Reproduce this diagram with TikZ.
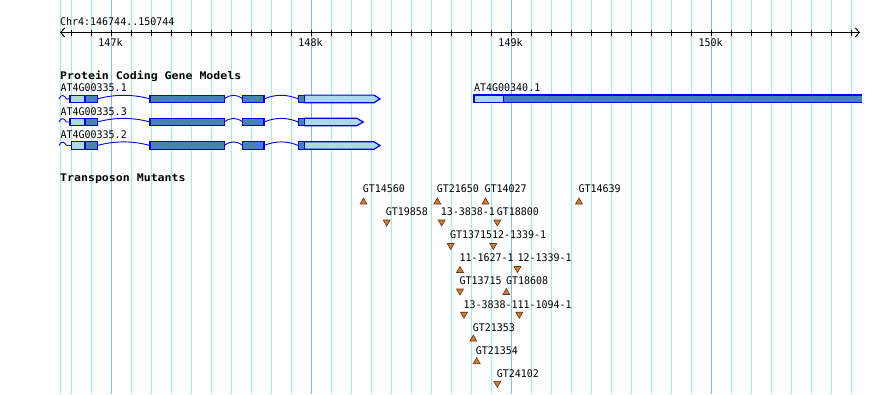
\documentclass[tikz,border=0pt]{standalone}
\usepackage{fontspec}
\usepackage{graphicx}
\setmonofont{DejaVu Sans Mono}[FakeStretch=0.95]
\usetikzlibrary{shapes.geometric,arrows.meta}
\definecolor{gridminor}{RGB}{160,236,238}
\definecolor{gridmajor}{RGB}{125,190,245}
\definecolor{exdark}{RGB}{70,130,180}
\definecolor{exlight}{RGB}{173,216,230}
\definecolor{exline}{RGB}{0,0,235}
\definecolor{mutfill}{RGB}{212,122,50}
\definecolor{mutline}{RGB}{100,55,20}
\newcommand\intronpath[3]{% x1 x2 y
  \draw[exline,line width=0.9pt] (#1,#3) .. controls ({#1+(#2-#1)/3},{#3-4.8}) and ({#2-(#2-#1)/3},{#3-4.8}) .. (#2,#3);}
\newcommand\generow[4]{% y, first exon start, light end, tip
  \draw[exline,line width=0.9pt] (59,#1) .. controls (61,{#1-4.5}) and (64,{#1-4.5}) .. (66.5,#1) -- (#2,#1);
  \intronpath{97.3}{150}{#1}
  \intronpath{224.3}{242.7}{#1}
  \intronpath{264}{298.3}{#1}
  \draw[exbox,fill=exlight] (#2,{#1-3.8}) rectangle (85,{#1+3.8});
  \draw[exbox,fill=exdark] (85,{#1-3.8}) rectangle (97.3,{#1+3.8});
  \draw[exbox,fill=exdark] (150,{#1-3.8}) rectangle (224.3,{#1+3.8});
  \draw[exbox,fill=exdark] (242.7,{#1-3.8}) rectangle (264,{#1+3.8});
  \draw[exbox,fill=exlight] (304.3,{#1-3.8}) -- (#3,{#1-3.8}) -- (#4,#1) -- (#3,{#1+3.8}) -- (304.3,{#1+3.8}) -- cycle;
  \draw[exbox,fill=exdark] (298.3,{#1-3.8}) rectangle (304.3,{#1+3.8});
}
\begin{document}
\begin{tikzpicture}[x=1pt,y=-1pt,
  font=\ttfamily\fontsize{10.5}{12}\selectfont,
  lab/.style={anchor=base west, inner sep=0pt},
  exbox/.style={draw=exline, line width=1.2pt},
  mutup/.style={regular polygon, regular polygon sides=3, fill=mutfill, draw=mutline,
     line width=0.6pt, inner sep=0pt, minimum size=8pt, yshift=-1pt},
  mutdn/.style={mutup, shape border rotate=180, yshift=1pt}]
\useasboundingbox (0,0) rectangle (890,394);
\fill[white] (0,0) rectangle (890,394);
% grid
\draw[gridminor,line width=1pt] (60.5,0) -- (60.5,394);
\foreach \i in {0,...,39} {
  \pgfmathsetmacro\xx{71.5+20*\i}
  \draw[gridminor,line width=1pt] (\xx,0) -- (\xx,394);
}
\foreach \xx in {111.5,311.5,511.5,711.5} {
  \draw[gridmajor,line width=1pt] (\xx,0) -- (\xx,394);
}
% axis
\node[lab] (chr) at (60,25) {Chr4:146744..150744};
\draw[line width=1pt,{Straight Barb[length=4pt,width=9pt]}-{Straight Barb[length=4pt,width=9pt]}] (60,32.5) -- (860,32.5);
\foreach \i in {0,...,39} {
  \pgfmathsetmacro\xx{71.5+20*\i}
  \draw[line width=1pt] (\xx,29.5) -- (\xx,35.5);
}
\node[anchor=base,inner sep=0pt] (k147) at (110.5,46.5) {147k};
\node[anchor=base,inner sep=0pt] (k148) at (310.5,46.5) {148k};
\node[anchor=base,inner sep=0pt] (k149) at (510.5,46.5) {149k};
\node[anchor=base,inner sep=0pt] (k150) at (710.5,46.5) {150k};
% gene models
\node[lab] (hgenes) at (60,79.5) {\bfseries\scalebox{1.16}[1]{Protein Coding Gene Models}};
\node[lab] (g1) at (60.5,91.7) {AT4G00335.1};
\node[lab] (g3) at (60.5,115) {AT4G00335.3};
\node[lab] (g2) at (60.5,138.3) {AT4G00335.2};
\node[lab] (g4) at (474,91.7) {AT4G00340.1};
\generow{98.9}{70}{374}{380}
\generow{122}{70}{356.7}{363.3}
\generow{145.5}{71.7}{374}{380}
\fill[exdark] (503.3,95) rectangle (862,102.5);
\fill[exlight] (474,95) rectangle (503.3,102.5);
\draw[exline,line width=1.2pt] (862,95) -- (474,95) -- (474,102.5) -- (862,102.5);
\draw[exline,line width=1.2pt] (503.3,95) -- (503.3,102.5);
% transposon mutants
\node[lab] (hmut) at (60,181) {\bfseries\scalebox{1.16}[1]{Transposon Mutants}};
% row 0
\node[lab] (l1) at (362.7,192.3) {GT14560};   \node[mutup] (t1) at (363.5,201) {};
\node[lab] (l2) at (436.7,192.3) {GT21650};   \node[mutup] (t2) at (437.3,201) {};
\node[lab] (l3) at (484.3,192.3) {GT14027};   \node[mutup] (t3) at (485.5,201) {};
\node[lab] (l4) at (578.3,192.3) {GT14639};   \node[mutup] (t4) at (579,201) {};
% row 1
\node[lab] (l5) at (385.7,215.6) {GT19858};   \node[mutdn] (t5) at (386.7,222) {};
\node[lab] (l6) at (440.7,215.6) {13-3838-1}; \node[mutdn] (t6) at (441.7,222) {};
\node[lab] (l7) at (496.7,215.6) {GT18800};   \node[mutdn] (t7) at (497.3,222) {};
% row 2
\node[lab] (l8) at (450,238.5) {GT13715};     \node[mutdn] (t8) at (450.7,245.5) {};
\node[lab] (l9) at (492,238.5) {12-1339-1};   \node[mutdn] (t9) at (493.3,245.5) {};
% row 3
\node[lab] (l10) at (459.3,261.6) {11-1627-1}; \node[mutup] (t10) at (460,269.5) {};
\node[lab] (l11) at (517.3,261.6) {12-1339-1}; \node[mutdn] (t11) at (517.5,268.5) {};
% row 4
\node[lab] (l12) at (459.3,284.8) {GT13715};   \node[mutdn] (t12) at (460,291) {};
\node[lab] (l13) at (506,284.8) {GT18608};     \node[mutup] (t13) at (506.3,291.5) {};
% row 5
\node[lab] (l14) at (463.3,308) {13-3838-1};   \node[mutdn] (t14) at (464,314.2) {};
\node[lab] (l15) at (517.3,308) {11-1094-1};   \node[mutdn] (t15) at (519.3,314.2) {};
% row 6-8
\node[lab] (l16) at (472.7,331.2) {GT21353};   \node[mutup] (t16) at (473.3,338) {};
\node[lab] (l17) at (475.7,354.2) {GT21354};   \node[mutup] (t17) at (476.7,360.7) {};
\node[lab] (l18) at (496.7,377.3) {GT24102};   \node[mutdn] (t18) at (497.3,383.3) {};
\end{tikzpicture}
\end{document}
